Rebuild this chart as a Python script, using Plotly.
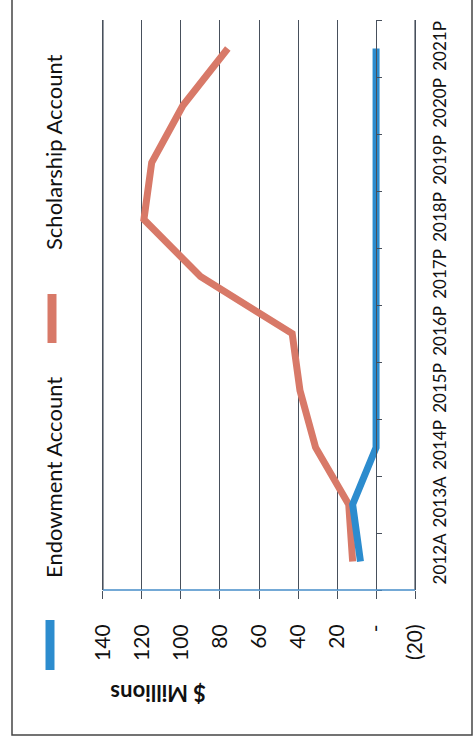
import plotly.graph_objects as go

categories = ["2012A", "2013A", "2014P", "2015P", "2016P", "2017P", "2018P", "2019P", "2020P", "2021P"]
endowment = [8, 12, 0, 0, 0, 0, 0, 0, 0, 0]
scholarship = [12, 14, 31, 39, 43, 90, 119, 115, 99, 76]
value_ticks = [140, 120, 100, 80, 60, 40, 20, 0, -20]
value_labels = ["140", "120", "100", "80", "60", "40", "20", "-", "(20)"]
series_names = ["Endowment Account", "Scholarship Account"]
axis_title = "$ Millions"

BLUE = "rgb(44,140,206)"
RED = "rgb(216,121,104)"
GRID = "rgb(72,80,92)"
FONT = "Lato, 'Open Sans', sans-serif"

W, H = 475, 746
L, R, T, B = 100, 57, 20, 156
pw, ph = W - L - R, H - T - B

def px(x):
    return (x - L) / pw

def py(y):
    return (H - B - y) / ph

xr = [141.5, -21.5]
zero_pos = (xr[0] - 0) / (xr[0] - xr[1])

fig = go.Figure()
fig.add_trace(go.Scatter(x=endowment, y=categories, mode="lines", name=series_names[0],
                         line=dict(color=BLUE, width=7), yaxis="y2", showlegend=False))
fig.add_trace(go.Scatter(x=scholarship, y=categories, mode="lines", name=series_names[1],
                         line=dict(color=RED, width=7), yaxis="y", showlegend=False))

fig.update_layout(
    width=W, height=H,
    margin=dict(l=L, r=R, t=T, b=B),
    paper_bgcolor="white", plot_bgcolor="white",
    font=dict(family=FONT, color="#111"),
    xaxis=dict(range=xr, tickvals=value_ticks, ticktext=value_labels, tickangle=-90,
               showgrid=True, gridcolor=GRID, gridwidth=1.3, zeroline=False,
               ticks="outside", ticklen=8, tickcolor=GRID, tickwidth=1.3,
               showline=False,
               ticklabelstandoff=17, tickfont=dict(size=21, family=FONT, color="#111"),
               anchor="y"),
    yaxis=dict(type="category", categoryorder="array", categoryarray=categories,
               range=[-0.5, 9.5], anchor="free", position=zero_pos, side="right",
               showline=True, linecolor=GRID, linewidth=1.3, ticks="outside",
               tickson="boundaries", ticklen=5, tickcolor=GRID, showticklabels=False,
               showgrid=False, zeroline=False),
    yaxis2=dict(type="category", categoryorder="array", categoryarray=categories,
                range=[-0.5, 9.5], matches="y", overlaying="y", side="right", anchor="x",
                showline=False, ticks="", tickangle=-90, ticklabelstandoff=10,
                tickfont=dict(size=17, family=FONT, color="#111"), showgrid=False),
)

# gridlines at the two ends of the value axis (plotly drops them near the plot edge)
for v in (value_ticks[0], value_ticks[-1]):
    fig.add_shape(type="line", xref="x", yref="paper", x0=v, x1=v, y0=0, y1=1,
                  line=dict(color=GRID, width=1.3), layer="below")

# value-axis line (bottom, spanning the grid)
fig.add_shape(type="line", xref="x", yref="paper", x0=value_ticks[0], x1=value_ticks[-1], y0=0, y1=0,
              line=dict(color="rgb(70,140,200)", width=1.5))

# legend (rotated)
fig.add_shape(type="line", xref="paper", yref="paper", x0=px(50), x1=px(50), y0=py(620), y1=py(670),
              line=dict(color=BLUE, width=9))
fig.add_shape(type="line", xref="paper", yref="paper", x0=px(52), x1=px(52), y0=py(294), y1=py(343),
              line=dict(color=RED, width=9))
fig.add_annotation(text=series_names[0], xref="paper", yref="paper", x=px(53), y=py(478),
                   xanchor="center", yanchor="middle",
                   textangle=-90, showarrow=False, font=dict(size=22, family=FONT, color="#111"))
fig.add_annotation(text=series_names[1], xref="paper", yref="paper", x=px(53), y=py(152),
                   xanchor="center", yanchor="middle",
                   textangle=-90, showarrow=False, font=dict(size=22, family=FONT, color="#111"))
fig.add_annotation(text="<b>" + axis_title + "</b>", xref="paper", yref="paper", x=px(158), y=py(693),
                   xanchor="center", yanchor="middle",
                   textangle=180, showarrow=False, font=dict(size=22, family=FONT, color="#111"))
# outer frame
fig.add_shape(type="rect", xref="paper", yref="paper", x0=px(12), x1=px(472), y0=py(735), y1=py(-10),
              line=dict(color="rgb(70,70,70)", width=1.5))

fig.write_html("out.html")
